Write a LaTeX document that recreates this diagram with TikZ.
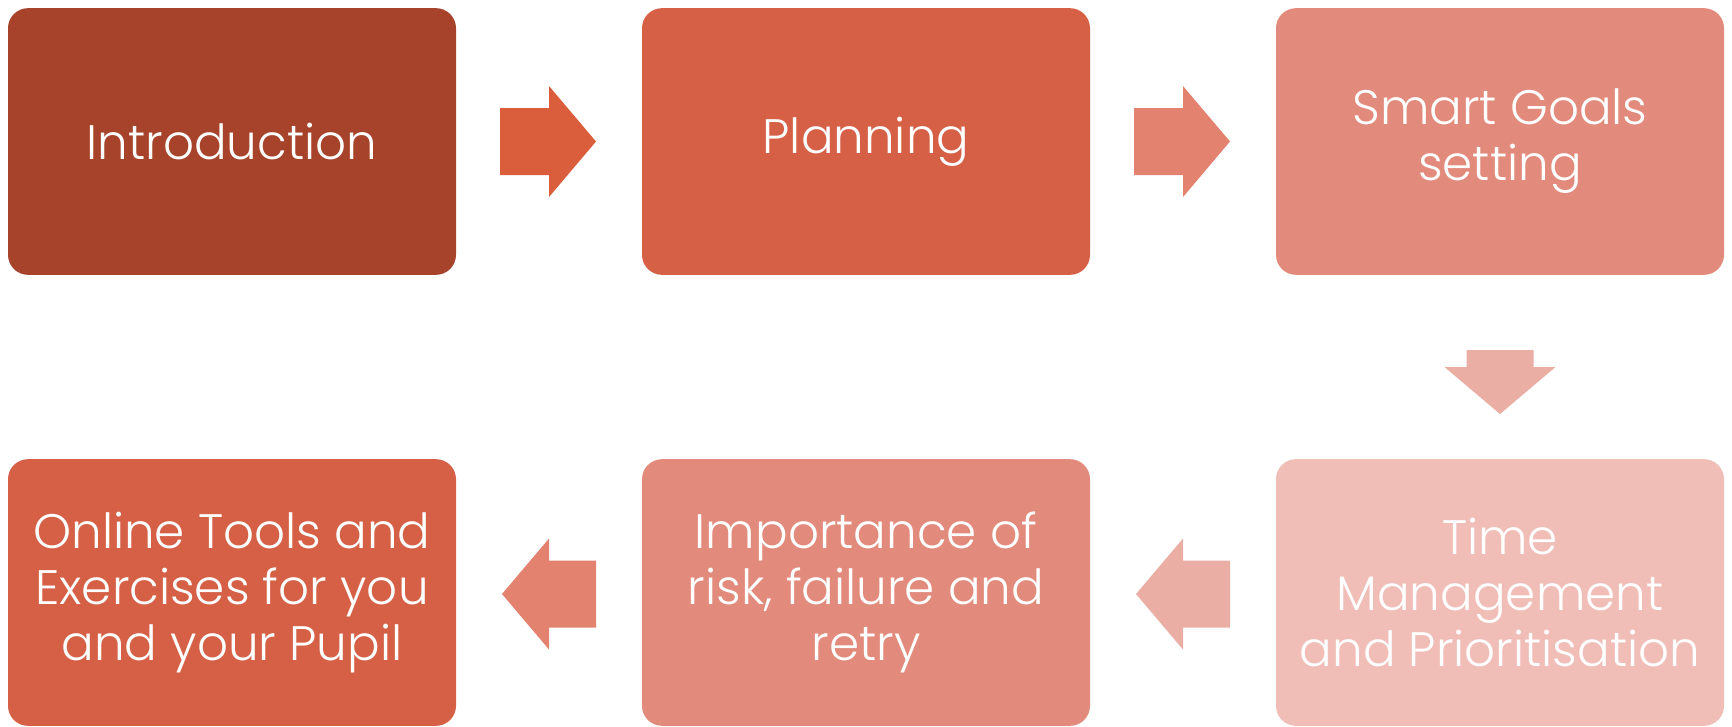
\documentclass[tikz,border=0pt]{standalone}
\usepackage{fontspec}
\setmainfont{Poppins Light}
\usetikzlibrary{calc}
\definecolor{stepone}{HTML}{A6432A}
\definecolor{steptwo}{HTML}{D56046}
\definecolor{stepthree}{HTML}{E28A7B}
\definecolor{stepfour}{HTML}{F0BDB7}
\definecolor{arrowone}{HTML}{DA5E3C}
\definecolor{arrowtwo}{HTML}{E2826F}
\definecolor{arrowthree}{HTML}{EAAEA4}
\tikzset{
    stepbox/.style={rectangle, rounded corners=15pt, minimum width=336pt, minimum height=200pt,
        text=white, align=center, inner sep=0pt, font=\fontsize{36.3}{42}\selectfont},
    pics/blockarrow/.style={code={
        \path[pic actions] (-#1,-33.5) -- (0,-33.5) -- (0,-55.5) -- (47,0)
            -- (0,55.5) -- (0,33.5) -- (-#1,33.5) -- cycle;
    }}
}

\begin{document}
\begin{tikzpicture}[x=0.75pt, y=-0.75pt]
    \useasboundingbox (0,0) rectangle (1732,726);
    % Top row
    \node[stepbox, fill=stepone] (intro) at (232, 141.5) {Introduction};
    \node[stepbox, fill=steptwo] (plan) at (866, 141.5) {Planning};
    \node[stepbox, fill=stepthree] (goals) at (1500, 141.5) {Smart Goals\\setting};
    % Bottom row
    \node[stepbox, fill=stepfour] (time) at (1500, 592.5) {Time\\Management\\and Prioritisation};
    \node[stepbox, fill=stepthree] (risk) at (866, 592.5) {Importance of\\risk, failure and\\retry};
    \node[stepbox, fill=steptwo] (online) at (232, 592.5) {Online Tools and\\Exercises for you\\and your Pupil};
    % Block arrows between the steps
    \pic[fill=arrowone] at ($(intro.east)!0.5!(plan.west)$) {blockarrow=49};
    \pic[fill=arrowtwo] at ($(plan.east)!0.5!(goals.west)$) {blockarrow=49};
    \pic[fill=arrowthree, rotate=-90] at ($(goals.south)!0.5!(time.north)$) {blockarrow=17};
    \pic[fill=arrowthree, xscale=-1] at ($(time.west)!0.5!(risk.east)+(0,1.5)$) {blockarrow=47};
    \pic[fill=arrowtwo, xscale=-1] at ($(risk.west)!0.5!(online.east)+(0,1.5)$) {blockarrow=47};
\end{tikzpicture}
\end{document}
